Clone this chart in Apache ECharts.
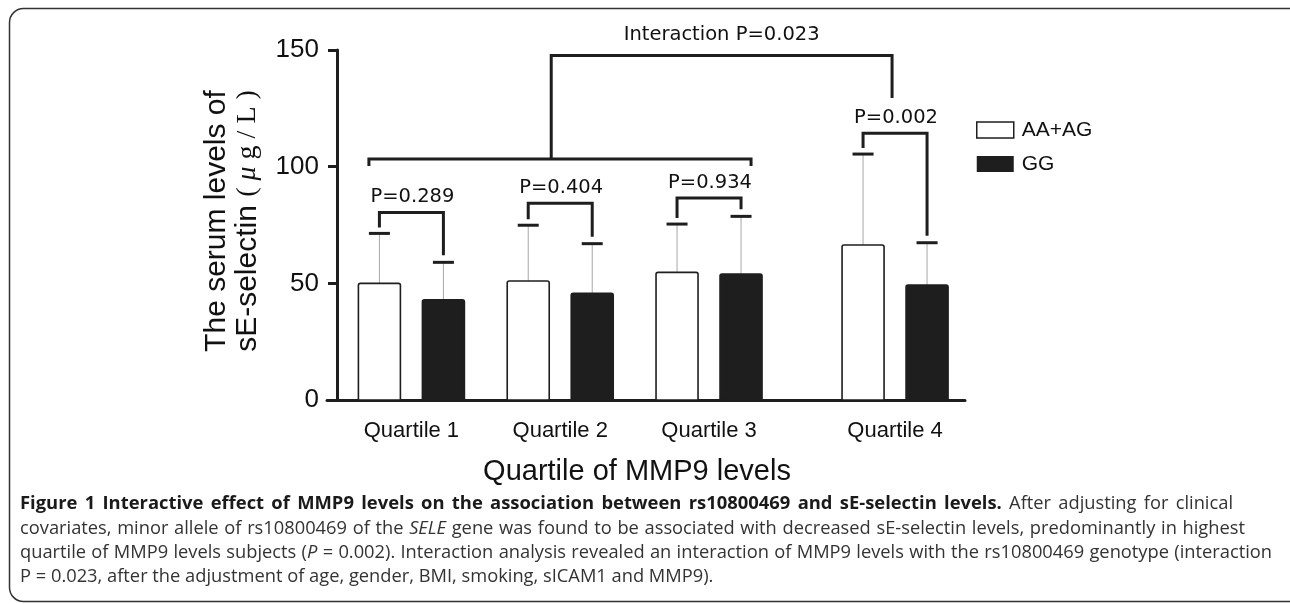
<!DOCTYPE html>
<html><head><meta charset="utf-8">
<script src="https://cdn.jsdelivr.net/npm/echarts@6/dist/echarts.min.js"></script>
<style>html,body{margin:0;padding:0;background:#fff}#c{width:1290px;height:604px}</style>
</head><body><div id="c"></div>
<script>
// ---- data ----
const categories = ['Quartile 1', 'Quartile 2', 'Quartile 3', 'Quartile 4'];
const groupPos = [0.5, 1.5, 2.5, 3.75];
const seriesNames = ['AA+AG', 'GG'];
const meanAAAG = [50, 51, 54.7, 66.4];
const meanGG = [42.9, 45.7, 54, 49.3];
const upperAAAG = [71.4, 74.9, 75.4, 105.4];
const upperGG = [59, 67, 78.7, 67.4];
const pLabels = ['P=0.289', 'P=0.404', 'P=0.934', 'P=0.002'];
const pBracketTop = [80.4, 84.3, 86.6, 114.3];
const yTicks = [0, 50, 100, 150];
const groupBracketValue = 103.3;
const interactionValue = 147.6;
const interactionRightEnd = 129.4;
const interactionLabel = 'Interaction P=0.023';
const captionLines = [
  [['b', 'Figure 1 Interactive effect of MMP9 levels on the association between rs10800469 and sE-selectin levels.'], ['n', ' After adjusting for clinical']],
  [['n', 'covariates, minor allele of rs10800469 of the '], ['i', 'SELE'], ['n', ' gene was found to be associated with decreased sE-selectin levels, predominantly in highest']],
  [['n', 'quartile of MMP9 levels subjects ('], ['i', 'P'], ['n', ' = 0.002). Interaction analysis revealed an interaction of MMP9 levels with the rs10800469 genotype (interaction']],
  [['n', 'P = 0.023, after the adjustment of age, gender, BMI, smoking, sICAM1 and MMP9).']]
];

const DARK = '#1e1e1e';
const SANS = '"Liberation Sans", Arial, sans-serif';
const WIDE = '"DejaVu Sans", sans-serif';

function barSeries(idx, means, uppers, side, fill, stroke) {
  return {
    name: seriesNames[idx], type: 'custom', coordinateSystem: 'cartesian2d', clip: false,
    data: groupPos.map((p, i) => [p, means[i], uppers[i]]),
    encode: { x: 0, y: 1 },
    itemStyle: { color: fill, borderColor: stroke },
    z: 3,
    renderItem(params, api) {
      const x = api.value(0), m = api.value(1), u = api.value(2);
      const base = api.coord([x, 0]), top = api.coord([x, m]), cap = api.coord([x, u]);
      const cx = base[0] + side * 32;
      const w = 42;
      return { type: 'group', children: [
        { type: 'line', shape: { x1: cx, y1: top[1], x2: cx, y2: cap[1] }, style: { stroke: '#a8a8a8', lineWidth: 1 } },
        { type: 'line', shape: { x1: cx - 10.5, y1: cap[1], x2: cx + 10.5, y2: cap[1] }, style: { stroke: DARK, lineWidth: 3 } },
        { type: 'rect', shape: { x: cx - w / 2, y: top[1], width: w, height: base[1] - top[1], r: [2, 2, 0, 0] },
          style: { fill: fill, stroke: stroke, lineWidth: 1.6 } }
      ] };
    }
  };
}

const bracketSeries = {
  type: 'custom', coordinateSystem: 'cartesian2d', clip: false, silent: true, z: 4,
  data: groupPos.map((p, i) => [p, pBracketTop[i], upperAAAG[i], upperGG[i], i]),
  encode: { x: 0, y: 1 },
  renderItem(params, api) {
    const x = api.value(0), i = api.value(4);
    const t = api.coord([x, api.value(1)]);
    const a = api.coord([x, api.value(2)]);
    const g = api.coord([x, api.value(3)]);
    const lx = t[0] - 32, rx = t[0] + 32;
    return { type: 'group', children: [
      { type: 'polyline', shape: { points: [[lx, a[1] - 6], [lx, t[1]], [rx, t[1]], [rx, g[1] - 7]] },
        style: { stroke: DARK, lineWidth: 3, fill: null } },
      { type: 'text', style: { x: t[0] + 1, y: t[1] - 15, text: pLabels[i], fill: '#111',
        font: '19.5px ' + WIDE, align: 'center', verticalAlign: 'middle' } }
    ] };
  }
};

const interactionSeries = {
  type: 'custom', coordinateSystem: 'cartesian2d', clip: false, silent: true, z: 4,
  data: [[groupPos[0], groupBracketValue, groupPos[2], interactionValue, groupPos[3], interactionRightEnd, groupPos[1]]],
  encode: { x: 0, y: 1 },
  renderItem(params, api) {
    const l = api.coord([api.value(0), api.value(1)]);
    const r = api.coord([api.value(2), api.value(1)]);
    const it = api.coord([api.value(6), api.value(3)]);
    const q4 = api.coord([api.value(4), api.value(5)]);
    const lx = l[0] - 42.5, rx = r[0] + 42;
    const ilx = it[0] - 9, irx = q4[0] - 3;
    return { type: 'group', children: [
      { type: 'polyline', shape: { points: [[lx, l[1] + 7], [lx, l[1]], [rx, l[1]], [rx, l[1] + 7]] },
        style: { stroke: DARK, lineWidth: 3, fill: null } },
      { type: 'polyline', shape: { points: [[ilx, l[1]], [ilx, it[1]], [irx, it[1]], [irx, q4[1]]] },
        style: { stroke: DARK, lineWidth: 3, fill: null } },
      { type: 'text', style: { x: (ilx + irx) / 2, y: it[1] - 21, text: interactionLabel, fill: '#111',
        font: '19.5px ' + WIDE, align: 'center', verticalAlign: 'middle' } }
    ] };
  }
};

// ---- caption layout (word-positioned, lines fitted to the column like the typeset figure) ----
const CAP_FONT = {
  b: 'bold 18.4px "Open Sans"',
  n: '18.3px "Open Sans"',
  i: 'italic 18.3px "Open Sans"'
};
const CAP_FILL = { b: '#1a1a1a', n: '#333', i: '#333' };
function captionGraphics() {
  const ctx = document.createElement('canvas').getContext('2d');
  const lineY = [504, 528.5, 553, 577];
  const lineEnd = [1233, 1245, 1272, null];
  const x0 = 20;
  const out = [];
  captionLines.forEach((segs, li) => {
    const toks = [];
    segs.forEach(([k, t]) => {
      t.split(/( )/).forEach(w => { if (w !== '') toks.push({ k, t: w, sp: w === ' ' }); });
    });
    let nat = 0, nsp = 0;
    toks.forEach(tk => { ctx.font = CAP_FONT[tk.k]; tk.w = ctx.measureText(tk.t).width; nat += tk.w; if (tk.sp) nsp++; });
    const extra = lineEnd[li] ? (lineEnd[li] - x0 - nat) / nsp : 0;
    let x = x0;
    toks.forEach(tk => {
      if (tk.sp) { x += tk.w + extra; return; }
      out.push({ type: 'text', silent: true, x: x, y: lineY[li],
        style: { text: tk.t, font: CAP_FONT[tk.k], fill: CAP_FILL[tk.k], align: 'left', verticalAlign: 'middle' } });
      x += tk.w;
    });
  });
  return out;
}

const chart = echarts.init(document.getElementById('c'), null, { renderer: 'canvas' });
chart.setOption({
  backgroundColor: '#fff',
  animation: false,
  grid: { left: 327, right: 325, top: 50, bottom: 204, containLabel: false },
  xAxis: {
    type: 'value', min: -0.0672, max: 4.22,
    axisLine: { show: true, onZero: true, lineStyle: { color: DARK, width: 3 } },
    axisTick: { show: false }, splitLine: { show: false },
    axisLabel: {
      customValues: groupPos, margin: 20, fontSize: 22, color: '#111', fontFamily: SANS,
      formatter: v => { const i = groupPos.findIndex(p => Math.abs(p - v) < 1e-6); return i >= 0 ? categories[i] : ''; }
    },
    name: 'Quartile of MMP9 levels', nameLocation: 'middle', nameGap: 57,
    nameTextStyle: { fontSize: 29, color: '#111', fontFamily: SANS, padding: [0, 18, 0, 0] }
  },
  yAxis: {
    type: 'value', min: yTicks[0], max: yTicks[yTicks.length - 1], interval: 50,
    axisLine: { show: true, onZero: true, lineStyle: { color: DARK, width: 3 } },
    axisTick: { show: true, length: 9, lineStyle: { color: DARK, width: 3 } },
    splitLine: { show: false },
    axisLabel: { fontSize: 26, color: '#111', fontFamily: SANS, margin: 8 }
  },
  legend: {
    orient: 'vertical', left: 976, top: 119.5, padding: 0, itemWidth: 37, itemHeight: 16, itemGap: 13,
    textStyle: { fontSize: 21, color: '#111', fontFamily: SANS, padding: [0, 0, 0, 3] },
    data: [
      { name: seriesNames[0], icon: 'rect', itemStyle: { color: '#fff', borderColor: DARK, borderWidth: 1.5 } },
      { name: seriesNames[1], icon: 'rect', itemStyle: { color: DARK } }
    ],
    selectedMode: false
  },
  graphic: [
    { type: 'rect', z: -10, silent: true, shape: { x: 9.5, y: 8.5, width: 1300, height: 593, r: 14 },
      style: { fill: null, stroke: '#333', lineWidth: 1.5 } },
    { type: 'text', silent: true, x: 232, y: 221, rotation: Math.PI / 2,
      style: { text: '{a|The serum levels of}\n{a|sE-selectin }{s|( }{m|μ}{s| g / L )}',
        align: 'center', verticalAlign: 'middle', fill: '#111',
        rich: {
          a: { fontSize: 30, fontFamily: SANS, lineHeight: 31, fill: '#111' },
          s: { fontSize: 28, fontFamily: '"Liberation Serif", serif', lineHeight: 31, fill: '#111' },
          m: { fontSize: 28, fontFamily: '"Liberation Serif", serif', fontStyle: 'italic', lineHeight: 31, fill: '#111' }
        } } },
    { type: 'group', silent: true, children: captionGraphics() }
  ],
  series: [
    barSeries(0, meanAAAG, upperAAAG, -1, '#ffffff', DARK),
    barSeries(1, meanGG, upperGG, 1, DARK, DARK),
    bracketSeries,
    interactionSeries
  ]
});
</script></body></html>
